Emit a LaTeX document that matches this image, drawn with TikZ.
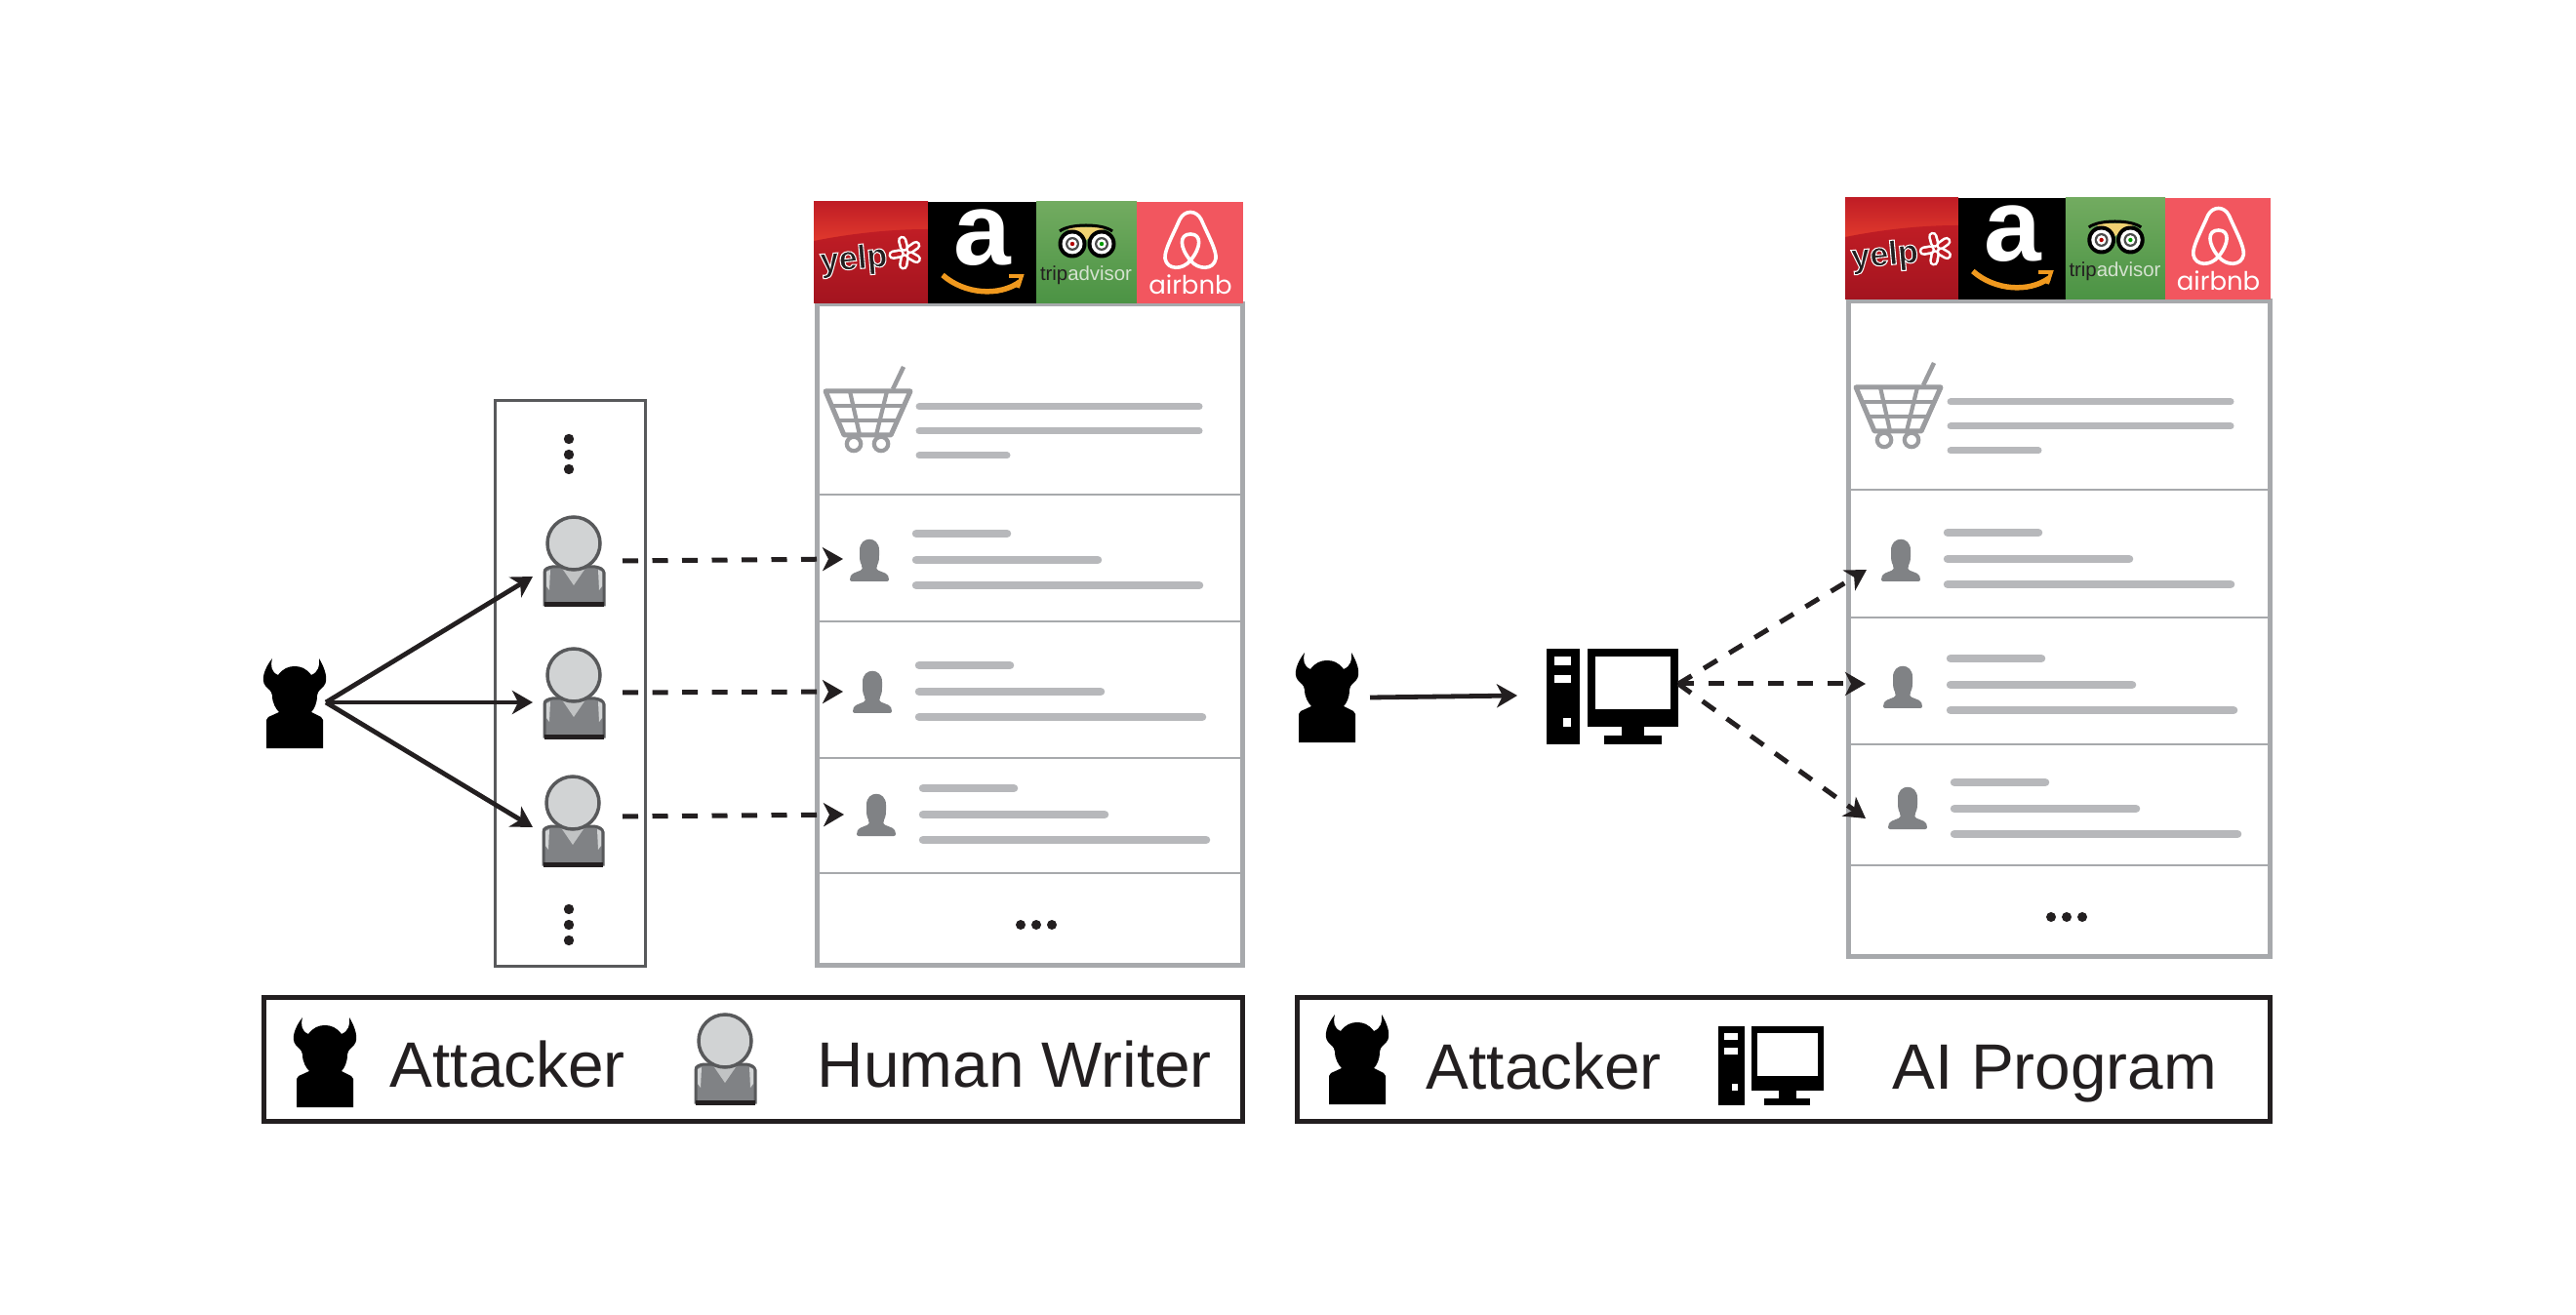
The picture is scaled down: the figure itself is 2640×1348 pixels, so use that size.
\documentclass[tikz,border=0pt]{standalone}
\usepackage{xcolor}
\usepackage{fontspec}
\usepackage{tikz}
\usetikzlibrary{arrows.meta}
\setmainfont{Liberation Sans}
\newfontfamily\beloFont{Poppins}

\definecolor{ink}{HTML}{231F20}
\definecolor{panelgray}{HTML}{A7A9AC}
\definecolor{bargray}{HTML}{B7B8BB}
\definecolor{cartgray}{HTML}{9B9C9F}
\definecolor{bodygray}{HTML}{808285}
\definecolor{headgray}{HTML}{D1D3D4}
\definecolor{boxgray}{HTML}{58595B}
\definecolor{yelpdark}{HTML}{A3141F}
\definecolor{yelpmid}{HTML}{C01D25}
\definecolor{yelplight}{HTML}{E0392D}
\definecolor{tripup}{HTML}{72AB60}
\definecolor{tripdown}{HTML}{4B9344}
\definecolor{tripgrey}{HTML}{D5E2D0}
\definecolor{airbnbred}{HTML}{F2565F}
\definecolor{smile}{HTML}{F0991E}
\definecolor{owlbrow}{HTML}{F0D272}

% stroked and filled letters for the yelp word
\newcommand{\outlined}[1]{\special{pdf:code 2 Tr 0.3 w 1 1 1 RG}#1\special{pdf:code 0 Tr 0 w}}

\tikzset{
    solidarrow/.style={ink, line width=0.48mm, -{Stealth[length=2.1mm,width=2.4mm,inset=0.6mm]}},
    dasharrow/.style={ink, line width=0.5mm, dash pattern=on 1.6mm off 1.45mm, -{Stealth[length=2.1mm,width=2.4mm,inset=0.6mm]}},
    panelframe/.style={panelgray, line width=0.5mm},
    rowline/.style={panelgray, line width=0.25mm},
    topbar/.style={bargray, line width=0.7mm, line cap=round},
    reviewbar/.style={bargray, line width=0.85mm, line cap=round},
    legendbox/.style={ink, line width=0.5mm},
    legendtext/.style={ink, inner sep=0pt, anchor=base west, font=\fontsize{18.7}{22}\selectfont},
    % attacker, origin at the top left corner
    attacker/.pic={
        \fill[black] (9,0) .. controls (1,10) and (-3,22) .. (2,28) .. controls (5,32) and (8,32) .. (9,38)
            .. controls (9,46) and (13,52) .. (16,55) -- (5,60) -- (3,63) -- (3,92) -- (61,92) -- (61,63)
            -- (59,60) -- (49,55) .. controls (52,52) and (55,46) .. (55,38) .. controls (56,32) and (59,32) .. (62,28)
            .. controls (67,22) and (63,10) .. (57,0) .. controls (58,8) and (56,14) .. (49,17)
            .. controls (44,10) and (38,8) .. (32,8) .. controls (26,8) and (20,10) .. (15,17)
            .. controls (8,14) and (7,8) .. (9,0) -- cycle;
    },
    % writer, origin at the centre of the head
    writer/.pic={
        \draw[fill=bodygray, draw=boxgray, line width=0.3mm] (-30,63) -- (-30,30) .. controls (-30,26) and (-27,25) .. (-22,24)
            -- (22,24) .. controls (27,25) and (30,26) .. (31,30) -- (31,63) -- cycle;
        \draw[ink, line width=0.5mm] (-30,63) -- (31,63);
        \fill[headgray] (-28,29) -- (-24,27) -- (-25,48) -- (-28,44) -- cycle;
        \fill[headgray] (29,29) -- (25,27) -- (26,48) -- (29,44) -- cycle;
        \fill[headgray!80!bodygray] (-13,24) -- (0,43) -- (13,24) -- cycle;
        \draw[fill=headgray, draw=boxgray, line width=0.35mm] (0,0) circle[radius=2.7mm];
    },
    % computer, origin at the top left corner
    computer/.pic={
        \fill[black] (0,0) rectangle (34,98);
        \fill[black] (42,0) rectangle (135,80);
        \fill[black] (77,80) rectangle (100,90);
        \fill[black] (59,89) rectangle (118,98);
        \fill[white] (50,8) rectangle (127,62);
        \fill[white] (8,8) rectangle (25,17);
        \fill[white] (8,27) rectangle (25,35);
        \fill[white] (17,71) rectangle (25,80);
    },
    % shopping cart, origin at the top left corner of the basket
    cart/.pic={
        \draw[cartgray, line width=0.5mm, line join=round] (3,2) -- (90,2) -- (70,47) -- (22,47) -- cycle;
        \draw[cartgray, line width=0.42mm] (8,17) -- (84,17) (15,32) -- (77,32);
        \draw[cartgray, line width=0.42mm] (28,2) -- (38,47) (66,2) -- (55,47);
        \draw[cartgray, line width=0.45mm] (72,0) -- (83,-23);
        \draw[cartgray, line width=0.42mm] (32,56) circle[radius=0.72mm] (60,56) circle[radius=0.72mm];
    },
    % reviewer silhouette, origin at the bottom centre
    person/.pic={
        \fill[bodygray, rounded corners=0.2mm] (-20,0) -- (-20,-4) .. controls (-17,-10) and (-8,-10) .. (-7,-15)
            .. controls (-10,-20) and (-10,-24) .. (-10,-30) .. controls (-10,-47) and (10,-47) .. (10,-30)
            .. controls (10,-24) and (10,-20) .. (7,-15) .. controls (8,-10) and (17,-10) .. (20,-4) -- (20,0) -- cycle;
    },
    % four site tiles, origin at the top left corner
    sitetiles/.pic={
        % yelp
        \shade[top color=yelpmid, bottom color=yelplight] (0,0) rectangle (117,40);
        \shade[top color=yelpmid, bottom color=yelpdark] (0,40) .. controls (40,32) and (80,28) .. (117,28) -- (117,104) -- (0,104) -- cycle;
        \foreach \ang in {100,170,30,-35,-105} {
            \draw[white, line width=0.95mm, line cap=round] (94,52) ++(\ang:6) -- ++(\ang:7);
            \draw[yelpmid, line width=0.42mm, line cap=round] (94,52) ++(\ang:6) -- ++(\ang:7);
        }
        \node[ink, inner sep=0pt, rotate=5, font=\bfseries\fontsize{9.8}{12}\selectfont] (yelpword) at (41,60) {\outlined{yelp}};
        % amazon
        \fill[black] (117,0) rectangle (228,104);
        \node[white, inner sep=0pt, anchor=base, font=\bfseries\fontsize{30}{32}\selectfont] (amazonword) at (173,65) {a};
        \draw[smile, line width=0.55mm] (132,75) .. controls (155,95) and (190,97) .. (211,82);
        \draw[smile, line width=0.38mm] (200,76) -- (213,76) -- (209,88);
        % tripadvisor
        \shade[top color=tripup, bottom color=tripdown] (228,0) rectangle (331,104);
        \fill[owlbrow] (257,26) -- (301,26) -- (279,39) -- cycle;
        \draw[black, line width=0.3mm] (252,30) .. controls (262,22) and (296,22) .. (306,30);
        \foreach \ex/\ec in {265/red!70!black, 295/green!60!black} {
            \fill[black] (\ex,43) circle[radius=1.45mm];
            \fill[white] (\ex,43) circle[radius=1.05mm];
            \fill[black!70] (\ex,43) circle[radius=0.7mm];
            \fill[white] (\ex,43) circle[radius=0.48mm];
            \fill[\ec] (\ex,43) circle[radius=0.22mm];
        }
        \node[tripgrey, inner sep=0pt, font=\fontsize{5.8}{7}\selectfont] (tripword) at (279,75) {\textcolor{ink}{trip}advisor};
        % airbnb
        \fill[airbnbred] (331,0) rectangle (440,104);
        \draw[white, line width=0.36mm, line join=round] (386,60) .. controls (378,70) and (362,70) .. (360,58)
            .. controls (359,50) and (368,34) .. (375,18) .. controls (380,8) and (392,8) .. (397,18)
            .. controls (404,34) and (413,50) .. (412,58) .. controls (410,70) and (394,70) .. (386,60)
            .. controls (375,47) and (374,33) .. (386,33) .. controls (398,33) and (397,47) .. (386,60) -- cycle;
        \node[white, inner sep=0pt, anchor=base, font=\beloFont\fontsize{7.4}{9}\selectfont] (airbnbword) at (386,95) {airbnb};
    }
}

\begin{document}
\begin{tikzpicture}[x=0.1mm, y=-0.1mm]
    \useasboundingbox (0,0) rectangle (2640,1348);

    % ends of the connectors
    \coordinate (attackerA) at (334,720);
    \coordinate (writerA) at (546,591);
    \coordinate (writerB) at (546,720);
    \coordinate (writerC) at (546,848);
    \coordinate (sendA) at (638,575);
    \coordinate (sendB) at (638,710);
    \coordinate (sendC) at (638,837);
    \coordinate (reviewA) at (864,573);
    \coordinate (reviewB) at (864,709);
    \coordinate (reviewC) at (865,835);
    \coordinate (attackerB) at (1404,715);
    \coordinate (programIn) at (1555,713);
    \coordinate (programOut) at (1720,701);
    \coordinate (reviewD) at (1913,584);
    \coordinate (reviewE) at (1912,701);
    \coordinate (reviewF) at (1912,839);

    % review panels
    \draw[panelframe] (837,312) rectangle (1273,989);
    \draw[panelframe] (1894,309) rectangle (2326,980);
    \foreach \yb in {507,637,777,895} {
        \draw[rowline] (837,\yb) -- (1273,\yb);
    }
    \foreach \yb in {502,633,763,887} {
        \draw[rowline] (1894,\yb) -- (2326,\yb);
    }
    \pic at (834,207) {sitetiles};
    \pic[xscale=0.991] at (1891,203) {sitetiles};

    % product row
    \foreach \cx/\cy/\bx/\by in {843/399/942/417, 1899/395/1999/412} {
        \pic at (\cx,\cy) {cart};
        \draw[topbar] (\bx,\by) -- ++(287,0);
        \draw[topbar] (\bx,\by+25) -- ++(287,0);
        \draw[topbar] (\bx,\by+50) -- ++(90,0);
    }

    % review rows
    \foreach \ix/\iy/\tx/\ty in {891/596/939/547, 894/731/942/682, 898/857/946/808, 1948/596/1996/546, 1950/726/1999/675, 1955/850/2003/802} {
        \pic at (\ix,\iy) {person};
        \draw[reviewbar] (\tx,\ty) -- ++(93,0);
        \draw[reviewbar] (\tx,\ty+27) -- ++(186,0);
        \draw[reviewbar] (\tx,\ty+53) -- ++(290,0);
    }

    % dots at the end of the panels
    \foreach \dx/\dy in {1046/948, 1062/948, 1078/948, 2102/940, 2118/940, 2134/940} {
        \fill[ink] (\dx,\dy) circle[radius=0.5mm];
    }

    % human writers
    \draw[boxgray, line width=0.3mm] (507,411) rectangle (661,990);
    \foreach \dy in {450,466,481,932,948,964} {
        \fill[ink] (583,\dy) circle[radius=0.52mm];
    }
    \pic at (588,557) {writer};
    \pic at (588,692) {writer};
    \pic at (587,823) {writer};
    \pic at (270,675) {attacker};
    \draw[solidarrow] (attackerA) -- (writerA);
    \draw[solidarrow] (attackerA) -- (writerB);
    \draw[solidarrow] (attackerA) -- (writerC);
    \draw[dasharrow] (sendA) -- (reviewA);
    \draw[dasharrow] (sendB) -- (reviewB);
    \draw[dasharrow] (sendC) -- (reviewC);

    % AI program
    \pic at (1328,669) {attacker};
    \pic at (1585,665) {computer};
    \draw[solidarrow] (attackerB) -- (programIn);
    \draw[dasharrow] (programOut) -- (reviewD);
    \draw[dasharrow] (programOut) -- (reviewE);
    \draw[dasharrow] (programOut) -- (reviewF);

    % legends
    \draw[legendbox] (270,1022) rectangle (1273,1149);
    \pic at (301,1043) {attacker};
    \node[legendtext] (attackerLabelA) at (399,1114) {Attacker};
    \pic at (743,1067) {writer};
    \node[legendtext] (writerLabel) at (837,1114) {Human Writer};

    \draw[legendbox] (1329,1022) rectangle (2326,1149);
    \pic at (1359,1040) {attacker};
    \node[legendtext] (attackerLabelB) at (1461,1116) {Attacker};
    \pic[xscale=0.8, yscale=0.83] at (1761,1052) {computer};
    \node[legendtext] (programLabel) at (1939,1116) {AI Program};
\end{tikzpicture}
\end{document}
